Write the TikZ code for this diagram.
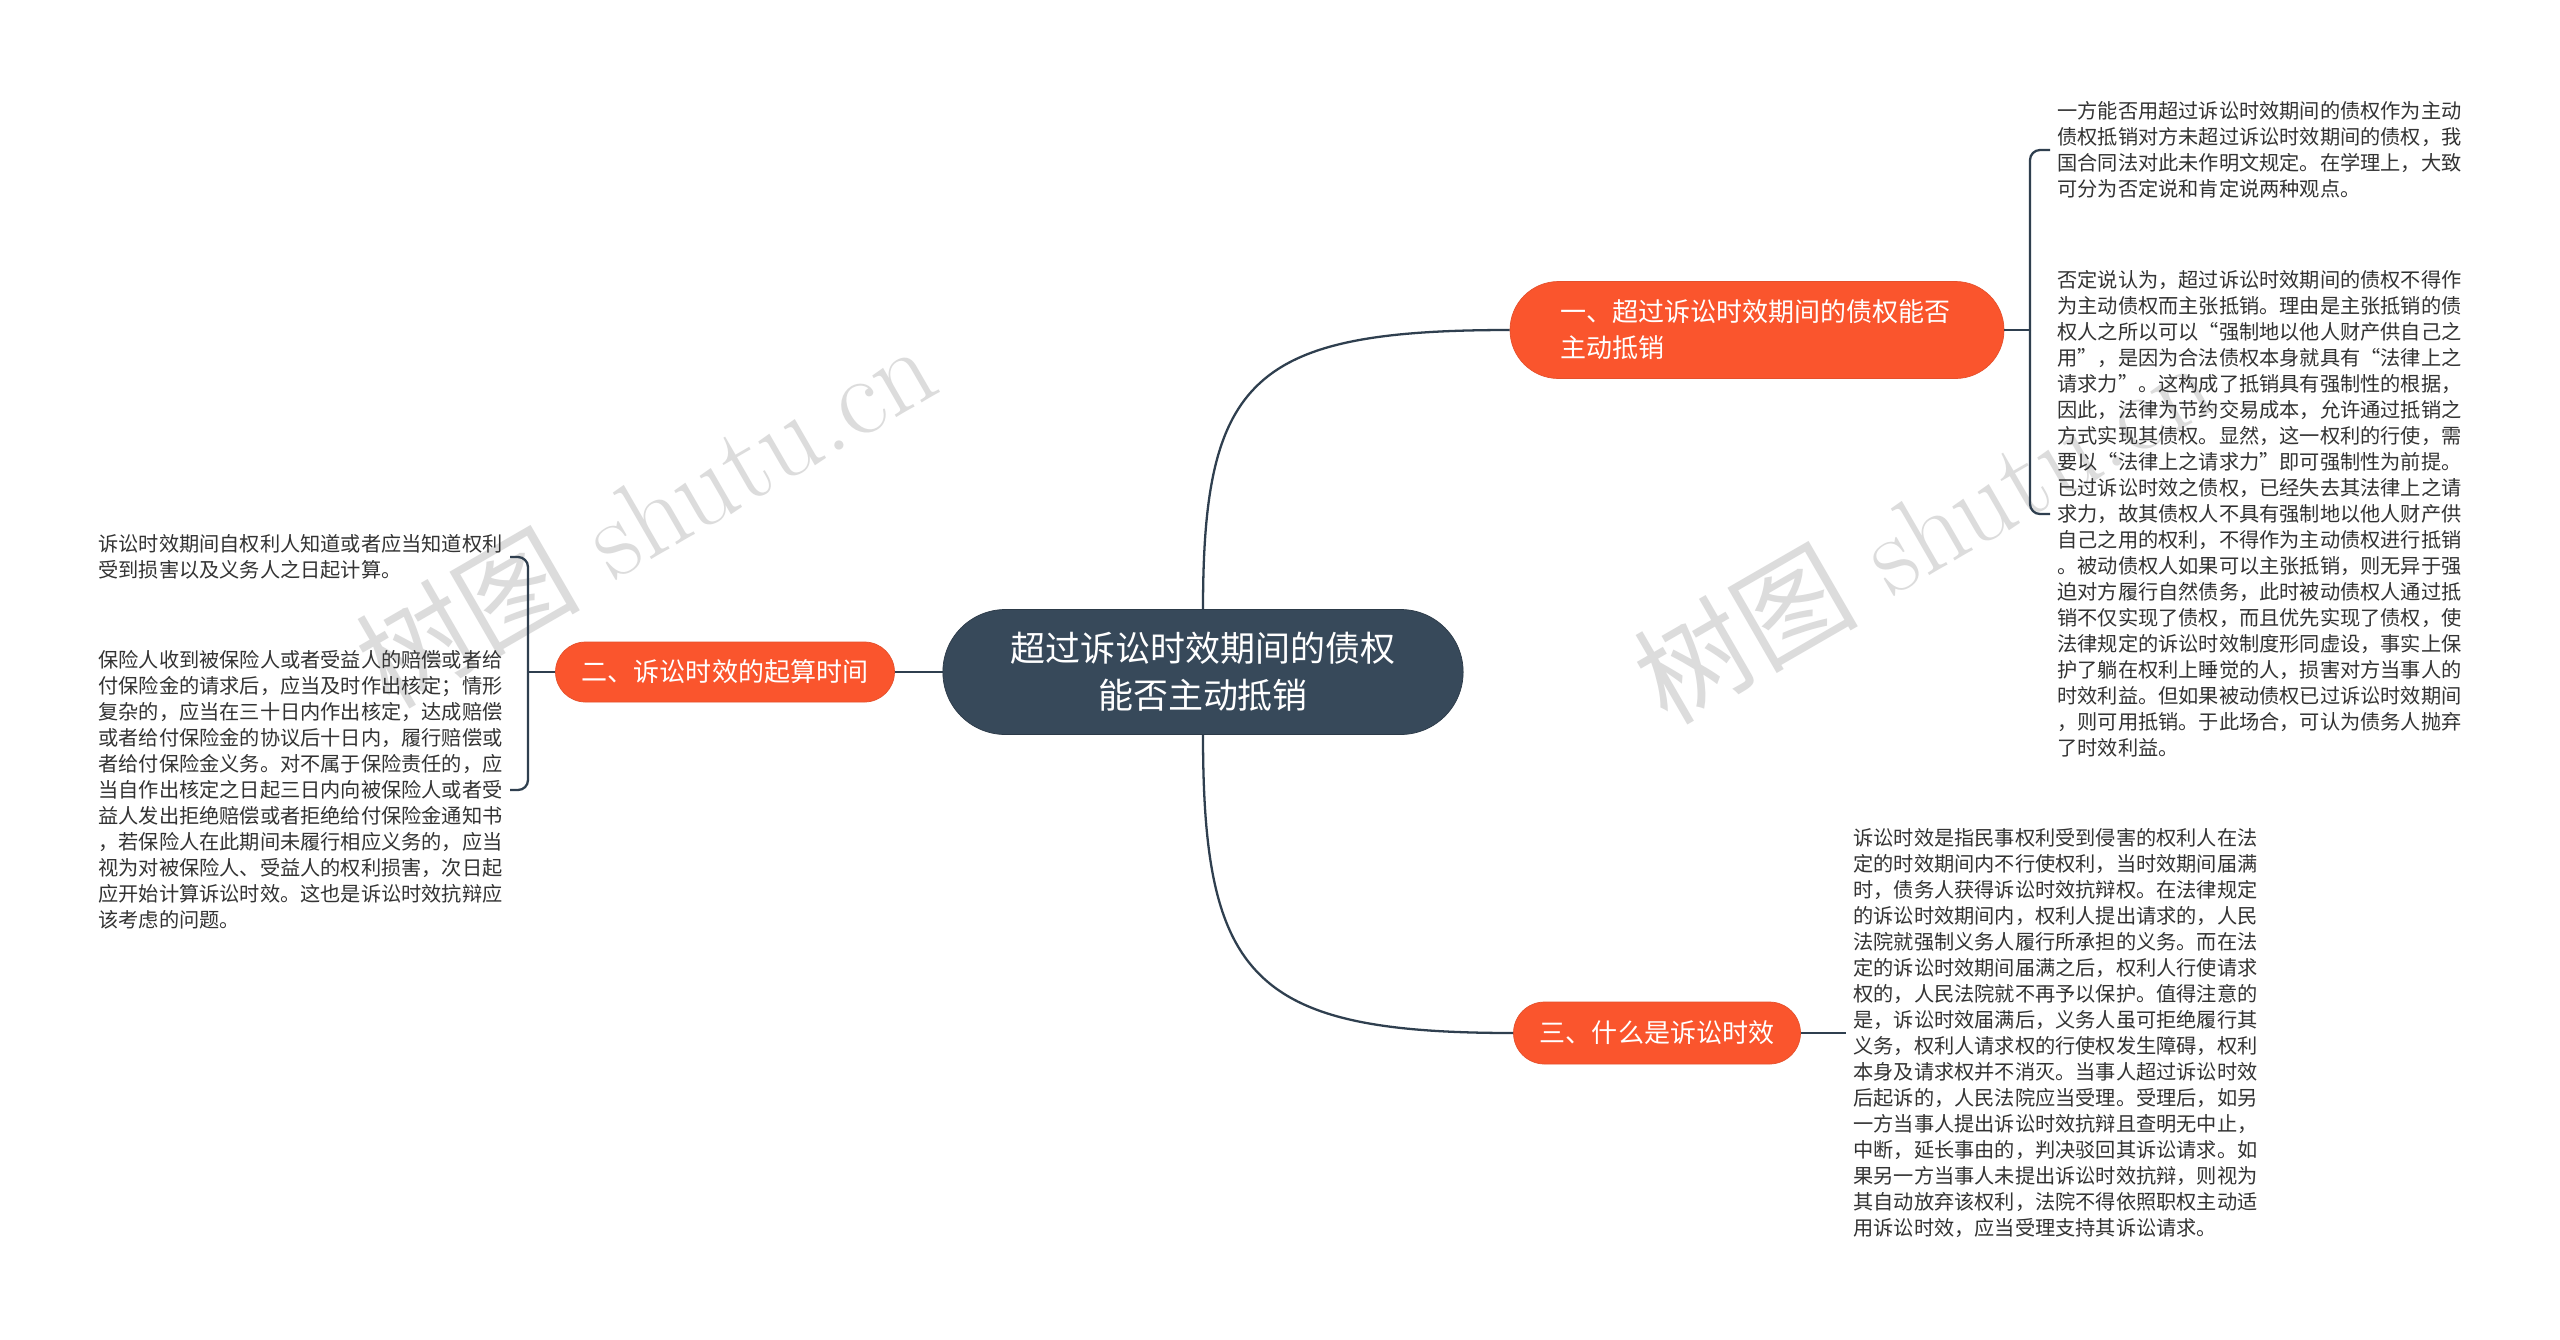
\documentclass[tikz,border=0pt]{standalone}
\usepackage{fontspec}
\newfontfamily\cjk{Noto Sans CJK SC}
\usetikzlibrary{shapes.misc}

\definecolor{rootfill}{HTML}{37495A}
\definecolor{branchfill}{HTML}{FA552D}
\definecolor{branchline}{HTML}{E5502C}
\definecolor{linkcol}{HTML}{2F3F4F}
\definecolor{leaftext}{HTML}{333333}
\definecolor{wmgray}{HTML}{DCDCDC}

\begin{document}
\begin{tikzpicture}[
    x=0.2mm, y=-0.2mm,
    every node/.style={align=center},
    rootbox/.style={rounded rectangle, draw=rootfill!80!black, fill=rootfill, text=white, minimum width=10.64cm, minimum height=2.5cm, font={\cjk\fontsize{19.9}{26.7}\selectfont}},
    branch/.style={rounded rectangle, draw=branchline, fill=branchfill, text=white, inner xsep=2pt, font={\cjk\fontsize{14.8}{20.5}\selectfont}},
    leaf/.style={align=left, text=leaftext, inner xsep=4pt, inner ysep=0pt, font={\cjk\fontsize{11.5}{14.8}\selectfont}},
    link/.style={draw=linkcol, line width=1.3pt},
    wmark/.style={text=wmgray, rotate=30, font={\fontsize{64}{70}\selectfont}}
]

% canvas
\fill[white] (0,0) rectangle (2560,1339);
\useasboundingbox (0,0) rectangle (2560,1339);

% watermarks
\node[wmark] (wm1) at (645,514) {{\cjk 树图} shutu.cn};
\node[wmark] (wm2) at (1923,530) {{\cjk 树图} shutu.cn};

% NODES
\node[rootbox] (root) at (1203,672) {超过诉讼时效期间的债权\\能否主动抵销};
\node[branch, minimum width=10.02cm, minimum height=1.94cm, text width=7.85cm, align=left] (b1) at (1757,330) {一、超过诉讼时效期间的债权能否\\主动抵销};
\node[branch, minimum width=6.92cm, minimum height=1.2cm] (b2) at (725,672) {二、诉讼时效的起算时间};
\node[branch, minimum width=5.88cm, minimum height=1.24cm] (b3) at (1657,1033) {三、什么是诉讼时效};

\node[leaf, anchor=west] (r1a) at (2050,150) {一方能否用超过诉讼时效期间的债权作为主动\\
债权抵销对方未超过诉讼时效期间的债权，我\\
国合同法对此未作明文规定。在学理上，大致\\
可分为否定说和肯定说两种观点。};
\node[leaf, anchor=west] (r1b) at (2050,514) {否定说认为，超过诉讼时效期间的债权不得作\\
为主动债权而主张抵销。理由是主张抵销的债\\
权人之所以可以“强制地以他人财产供自己之\\
用”，是因为合法债权本身就具有“法律上之\\
请求力”。这构成了抵销具有强制性的根据，\\
因此，法律为节约交易成本，允许通过抵销之\\
方式实现其债权。显然，这一权利的行使，需\\
要以“法律上之请求力”即可强制性为前提。\\
已过诉讼时效之债权，已经失去其法律上之请\\
求力，故其债权人不具有强制地以他人财产供\\
自己之用的权利，不得作为主动债权进行抵销\\
。被动债权人如果可以主张抵销，则无异于强\\
迫对方履行自然债务，此时被动债权人通过抵\\
销不仅实现了债权，而且优先实现了债权，使\\
法律规定的诉讼时效制度形同虚设，事实上保\\
护了躺在权利上睡觉的人，损害对方当事人的\\
时效利益。但如果被动债权已过诉讼时效期间\\
，则可用抵销。于此场合，可认为债务人抛弃\\
了时效利益。};
\node[leaf, anchor=east] (l2a) at (510,557) {诉讼时效期间自权利人知道或者应当知道权利\\
受到损害以及义务人之日起计算。};
\node[leaf, anchor=east] (l2b) at (510,790) {保险人收到被保险人或者受益人的赔偿或者给\\
付保险金的请求后，应当及时作出核定；情形\\
复杂的，应当在三十日内作出核定，达成赔偿\\
或者给付保险金的协议后十日内，履行赔偿或\\
者给付保险金义务。对不属于保险责任的，应\\
当自作出核定之日起三日内向被保险人或者受\\
益人发出拒绝赔偿或者拒绝给付保险金通知书\\
，若保险人在此期间未履行相应义务的，应当\\
视为对被保险人、受益人的权利损害，次日起\\
应开始计算诉讼时效。这也是诉讼时效抗辩应\\
该考虑的问题。};
\node[leaf, anchor=west] (r3a) at (1846,1033) {诉讼时效是指民事权利受到侵害的权利人在法\\
定的时效期间内不行使权利，当时效期间届满\\
时，债务人获得诉讼时效抗辩权。在法律规定\\
的诉讼时效期间内，权利人提出请求的，人民\\
法院就强制义务人履行所承担的义务。而在法\\
定的诉讼时效期间届满之后，权利人行使请求\\
权的，人民法院就不再予以保护。值得注意的\\
是，诉讼时效届满后，义务人虽可拒绝履行其\\
义务，权利人请求权的行使权发生障碍，权利\\
本身及请求权并不消灭。当事人超过诉讼时效\\
后起诉的，人民法院应当受理。受理后，如另\\
一方当事人提出诉讼时效抗辩且查明无中止，\\
中断，延长事由的，判决驳回其诉讼请求。如\\
果另一方当事人未提出诉讼时效抗辩，则视为\\
其自动放弃该权利，法院不得依照职权主动适\\
用诉讼时效，应当受理支持其诉讼请求。};

\coordinate (f1) at (2030,330);
\coordinate (f2) at (528,672);

% CONNECTORS
\draw[link] (root.north) .. controls +(0,-231) and +(-257,0) .. (b1.west);
\draw[link] (root.south) .. controls +(0,244) and +(-260,0) .. (b3.west);
\draw[link] (root.west) -- (b2.east);
\draw[link] (b1.east) -- (f1);
\draw[link, rounded corners=0.2cm] (f1) |- (r1a.west);
\draw[link, rounded corners=0.2cm] (f1) |- (r1b.west);
\draw[link] (b2.west) -- (f2);
\draw[link, rounded corners=0.2cm] (f2) |- (l2a.east);
\draw[link, rounded corners=0.2cm] (f2) |- (l2b.east);
\draw[link] (b3.east) -- (r3a.west);

\end{tikzpicture}
\end{document}
